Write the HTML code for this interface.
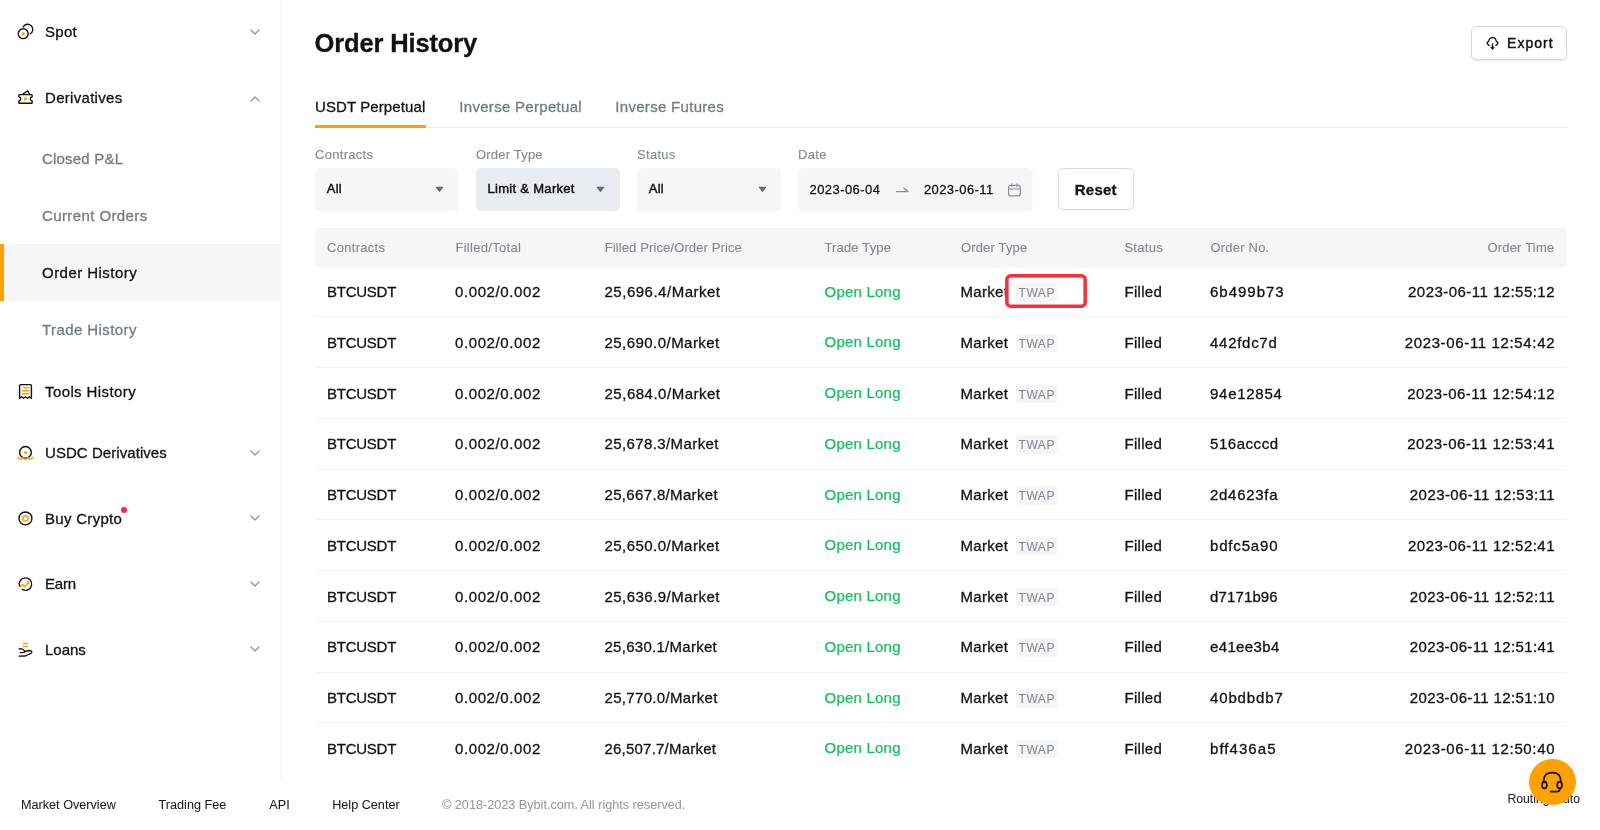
<!DOCTYPE html>
<html lang="en">
<head>
<meta charset="utf-8">
<title>Order History</title>
<style>
*{box-sizing:border-box;margin:0;padding:0}
html,body{width:1600px;height:830px;overflow:hidden;background:#fff}
body{font-family:"Liberation Sans",sans-serif;color:#121214;position:relative;will-change:transform;-webkit-text-stroke-width:.3px}
/* sidebar */
#side{position:absolute;left:0;top:0;width:281px;height:780px;border-right:1px solid #f4f5f7}
#icons{position:absolute;left:0;top:0}
.nav{position:absolute;left:45px;font-size:15px;line-height:20px;letter-spacing:.3px;white-space:nowrap;color:#121214}
.sub{position:absolute;left:42px;font-size:15px;line-height:20px;letter-spacing:.32px;white-space:nowrap;color:#747a86}
.sub.on{color:#121214}
#active{position:absolute;left:0;top:244px;width:280px;height:57px;background:#f5f6f8;border-left:4px solid #ffa100}
.chev{position:absolute;left:250.2px;width:10px;height:6px}
#dot{position:absolute;left:120.8px;top:506.9px;width:6.3px;height:6.3px;border-radius:50%;background:#f5274a}
/* main */
h1{position:absolute;left:314.6px;top:28px;font-size:25.5px;line-height:30px;font-weight:700;white-space:nowrap;color:#121214;letter-spacing:-.15px}
.tab{position:absolute;top:96.7px;font-size:15px;line-height:20px;letter-spacing:.3px;white-space:nowrap;color:#747a86}
.tab.on{color:#121214}
#tabline{position:absolute;left:315px;top:127px;width:1252px;height:1px;background:#e9edf1}
#tabon{position:absolute;left:315px;top:125px;width:111px;height:3px;background:#ffa100}
.flabel{position:absolute;top:147px;font-size:13px;line-height:16px;letter-spacing:.3px;color:#858a94;white-space:nowrap;-webkit-text-stroke-width:.15px}
.sel{position:absolute;top:168px;height:42.5px;border-radius:4.5px;background:#f5f6f8;font-size:13px;line-height:42px;padding-left:12px;letter-spacing:.3px;white-space:nowrap;-webkit-text-stroke-width:.45px}
.sel svg{position:absolute;right:14.2px;top:18.2px;width:9px;height:6.75px}
#reset{position:absolute;left:1058px;top:168px;width:75.5px;height:42px;border:1px solid #d4dae3;border-radius:4.5px;font-size:15px;font-weight:700;line-height:41.2px;text-align:center;letter-spacing:.2px}
#export{position:absolute;left:1471px;top:26px;width:96px;height:34px;border:1px solid #d4dae3;border-radius:5px;box-shadow:0 1px 1.5px rgba(180,190,205,.35);font-size:14px;line-height:33px;letter-spacing:1.05px;padding-left:35px;white-space:nowrap;-webkit-text-stroke-width:.45px}
#export svg{position:absolute;left:13px;top:9px;width:16px;height:16px}
#thead{position:absolute;left:314.5px;top:228px;width:1252.5px;height:38.5px;background:#f5f6f8}
.th{position:absolute;top:239.6px;font-size:13px;line-height:16px;letter-spacing:.3px;color:#858a94;white-space:nowrap;-webkit-text-stroke-width:.15px}
.row{position:absolute;left:315px;width:1252px;height:50.75px;border-bottom:1px solid #f1f2f4;font-size:15px;line-height:20px;letter-spacing:.3px}
.row.last{border-bottom:none}
.row span{position:absolute;top:15.5px;white-space:nowrap}
.c1{left:12px;letter-spacing:-.25px}.c2{left:140px;letter-spacing:.6px}.c3{left:289.5px;letter-spacing:.46px}.c4{left:509.5px;color:#10be5c;letter-spacing:.22px;-webkit-text-stroke-width:.2px;margin-top:-.3px}.c5{left:645.5px}.c6{left:809.5px}.c7{left:895px;letter-spacing:.85px}.c8{right:12.5px;letter-spacing:.42px}
.row span.twap{left:701px;top:16.5px;width:41px;height:18.5px;border-radius:3px;background:#f4f5f7;color:#858a94;font-size:12px;line-height:20px;text-align:center;letter-spacing:.55px;padding-left:.5px;-webkit-text-stroke-width:.1px}
#hl{position:absolute;left:1005px;top:274px;width:82px;height:34px}
#hl svg{position:absolute;left:0;top:0}
#hl span{position:absolute;left:11px;top:9px;width:41px;height:18.5px;border-radius:3px;background:#f4f5f7;color:#858a94;font-size:12px;line-height:20px;text-align:center;letter-spacing:.55px;padding-left:.5px;-webkit-text-stroke-width:.1px}
/* footer */
#foot{position:absolute;left:0;top:780px;width:1600px;height:50px;background:#fff}
.fl{position:absolute;top:798.2px;font-size:12.65px;line-height:15px;color:#1a1a1c;white-space:nowrap;-webkit-text-stroke-width:.05px}
#routing{position:absolute;left:1507.5px;top:791.5px;font-size:12.2px;line-height:14px;color:#222;white-space:nowrap;-webkit-text-stroke-width:.05px}
#chat{position:absolute;left:1529.2px;top:758.8px;width:46.4px;height:46.4px;border-radius:50%;background:#ffa100}
#chat svg{position:absolute;left:0;top:0;width:46.4px;height:46.4px}
</style>
</head>
<body>
<div id="side">
<div id="active"></div>
<svg id="icons" width="280" height="780" viewBox="0 0 280 780" fill="none" stroke="#121214" stroke-width="1.4" stroke-linecap="round" stroke-linejoin="round">
<!-- spot -->
<path d="M23.2 26.9 A5.1 5.1 0 1 1 30.2 33.75"/>
<circle cx="23.2" cy="33.7" r="4.95"/>
<polygon points="23.20,32.05 23.76,33.13 24.96,33.33 24.10,34.19 24.29,35.40 23.20,34.85 22.11,35.40 22.30,34.19 21.44,33.33 22.64,33.13" fill="#ff9d00" stroke="#ff9d00" stroke-width=".5" stroke-linejoin="round"/>
<!-- derivatives -->
<path d="M19.6 94.6 H31.4 Q32.2 94.6 32.2 95.4 V96.6 Q30.3 97.2 30.3 98.9 Q30.3 100.6 32.2 101.2 V102.5 Q32.2 103.3 31.4 103.3 H19.6 Q18.8 103.3 18.8 102.5 V101.2 Q20.7 100.6 20.7 98.9 Q20.7 97.2 18.8 96.6 V95.4 Q18.8 94.6 19.6 94.6 Z"/>
<path d="M22.6 94.4 L27.2 91.1 Q27.7 90.8 28 91.3 L29.7 94.4"/>
<polygon points="25.50,97.05 26.06,98.13 27.26,98.33 26.40,99.19 26.59,100.40 25.50,99.85 24.41,100.40 24.60,99.19 23.74,98.33 24.94,98.13" fill="#ff9d00" stroke="#ff9d00" stroke-width=".5" stroke-linejoin="round"/>
<!-- tools history -->
<path d="M19.6 398.3 V385.6 Q19.6 384.6 20.6 384.6 H30.4 Q31.4 384.6 31.4 385.6 V398.3 L29.45 396.7 L27.5 398.3 L25.5 396.7 L23.55 398.3 L21.6 396.7 Z"/>
<path d="M24.2 387.8 H28.7 M22.6 390.8 H28.7 M22.6 393.8 H28.7" stroke="#ff9d00" stroke-width="1.6"/>
<!-- usdc -->
<circle cx="25.45" cy="452.4" r="5.85"/>
<circle cx="25.45" cy="452.4" r="1.5" fill="#ff9d00" stroke="none"/>
<path d="M18 457.3 Q20.5 460.9 23 457.6 Q25.45 460.9 27.9 457.6 Q30.4 460.9 32.9 457.3" stroke="#ff9d00" stroke-width="1.5"/>
<!-- buy crypto -->
<circle cx="25.45" cy="518.4" r="6.45"/>
<circle cx="25.45" cy="518.4" r="2.7" stroke="#ff9d00"/>
<!-- earn -->
<path d="M19.75 586.6 A6.25 6.25 0 1 1 22.2 589.4" stroke-width="1.3"/>
<path d="M20.3 586.5 L22.5 584.4 L24.5 586.4 L28 582.9" stroke="#ff9d00" stroke-width="1.35"/>
<path d="M26.7 581.8 L29 581.6 L28.8 583.9 Z" fill="#ff9d00" stroke="#ff9d00" stroke-width=".6"/>
<!-- loans -->
<path d="M23 643.5 H28 M23 646.5 H28" stroke="#ff9d00" stroke-width="1.4" stroke-linecap="butt"/>
<path d="M19 648.8 L21.2 648.6 Q22.2 648.6 24.6 651 Q24.8 652.3 23.6 652.4 L20.3 652.6" stroke-width="1.3"/>
<path d="M24.8 651.5 L29.3 650.5 Q31.2 650.6 31.9 652.1 Q31.9 652.8 31 653.3 L25.2 656 L19 656.1" stroke-width="1.3"/>
</svg>
<div class="nav" style="top:22px">Spot</div><svg class="chev" style="top:28.6px" viewBox="0 0 10 6"><path d="M1 1 L5 5 L9 1" fill="none" stroke="#8d93a0" stroke-width="1.25" stroke-linecap="round" stroke-linejoin="round"/></svg>
<div class="nav" style="top:88px">Derivatives</div><svg class="chev" style="top:95.7px" viewBox="0 0 10 6"><path d="M1 5 L5 1 L9 5" fill="none" stroke="#8d93a0" stroke-width="1.25" stroke-linecap="round" stroke-linejoin="round"/></svg>
<div class="sub" style="top:149px;letter-spacing:.2px">Closed P&amp;L</div>
<div class="sub" style="top:206px;letter-spacing:.4px">Current Orders</div>
<div class="sub on" style="top:263px;letter-spacing:.46px">Order History</div>
<div class="sub" style="top:320px;letter-spacing:.42px">Trade History</div>
<div class="nav" style="top:381.5px;letter-spacing:.4px">Tools History</div>
<div class="nav" style="top:443px;letter-spacing:.06px">USDC Derivatives</div><svg class="chev" style="top:449.7px" viewBox="0 0 10 6"><path d="M1 1 L5 5 L9 1" fill="none" stroke="#8d93a0" stroke-width="1.25" stroke-linecap="round" stroke-linejoin="round"/></svg>
<div class="nav" style="top:508.5px">Buy Crypto</div><svg class="chev" style="top:515.2px" viewBox="0 0 10 6"><path d="M1 1 L5 5 L9 1" fill="none" stroke="#8d93a0" stroke-width="1.25" stroke-linecap="round" stroke-linejoin="round"/></svg>
<div id="dot"></div>
<div class="nav" style="top:574px;letter-spacing:-.2px">Earn</div><svg class="chev" style="top:580.7px" viewBox="0 0 10 6"><path d="M1 1 L5 5 L9 1" fill="none" stroke="#8d93a0" stroke-width="1.25" stroke-linecap="round" stroke-linejoin="round"/></svg>
<div class="nav" style="top:639.5px;letter-spacing:0">Loans</div><svg class="chev" style="top:646.2px" viewBox="0 0 10 6"><path d="M1 1 L5 5 L9 1" fill="none" stroke="#8d93a0" stroke-width="1.25" stroke-linecap="round" stroke-linejoin="round"/></svg>
</div>
<h1>Order History</h1>
<div id="export"><svg viewBox="0 0 16 16" fill="none" stroke="#121214" stroke-width="1.3" stroke-linecap="round" stroke-linejoin="round"><path d="M4.1 9.5 L2.3 7.7 Q1.7 7.1 2.3 6.5 L3.8 5 Q4.3 1.6 7.5 1.6 Q10.7 1.6 11.2 5 L12.7 6.5 Q13.3 7.1 12.7 7.7 L10.9 9.5"/><path d="M7.5 7.8 V12.6"/><path d="M5.7 11.4 L7.5 13.5 L9.3 11.4 Z" fill="#121214" stroke-width=".6"/></svg>Export</div>
<div class="tab on" style="left:315px;letter-spacing:.1px">USDT Perpetual</div>
<div class="tab" style="left:459.3px">Inverse Perpetual</div>
<div class="tab" style="left:615.3px">Inverse Futures</div>
<div id="tabline"></div><div id="tabon"></div>
<div class="flabel" style="left:315px">Contracts</div>
<div class="flabel" style="left:476px;letter-spacing:.2px">Order Type</div>
<div class="flabel" style="left:637px">Status</div>
<div class="flabel" style="left:798px">Date</div>
<div class="sel" style="left:314.7px;width:143.8px">All<svg viewBox="0 0 8 6"><path d="M.8 .6 H7.2 Q7.8 .6 7.4 1.1 L4.4 5.2 Q4 5.7 3.6 5.2 L.6 1.1 Q.2 .6 .8 .6Z" fill="#666b74"/></svg></div>
<div class="sel" style="left:475.5px;width:144px;background:#e8ecf0">Limit &amp; Market<svg viewBox="0 0 8 6"><path d="M.8 .6 H7.2 Q7.8 .6 7.4 1.1 L4.4 5.2 Q4 5.7 3.6 5.2 L.6 1.1 Q.2 .6 .8 .6Z" fill="#666b74"/></svg></div>
<div class="sel" style="left:636.7px;width:144px">All<svg viewBox="0 0 8 6"><path d="M.8 .6 H7.2 Q7.8 .6 7.4 1.1 L4.4 5.2 Q4 5.7 3.6 5.2 L.6 1.1 Q.2 .6 .8 .6Z" fill="#666b74"/></svg></div>
<div class="sel" id="date" style="left:798px;width:235px;letter-spacing:.43px;line-height:43.4px;-webkit-text-stroke-width:.28px;transform:translateX(-.5px)">2023-06-04<span style="position:absolute;left:126.4px;top:0">2023-06-11</span>
<svg style="left:98px;top:16px;width:14px;height:10px;right:auto" viewBox="0 0 14 10" fill="none" stroke="#8a8f99" stroke-width="1.3" stroke-linecap="round" stroke-linejoin="round"><path d="M.9 7.7 H12.6 L8.5 4"/></svg>
<svg style="left:210px;top:14.7px;width:14px;height:14px;right:auto" viewBox="0 0 14 14" fill="none" stroke="#8a8f99" stroke-width="1.2" stroke-linecap="round" stroke-linejoin="round"><rect x="1.1" y="2.4" width="11.6" height="10.5" rx="2"/><path d="M1.1 6 H12.7 M4.3 .8 V3.4 M9.5 .8 V3.4"/></svg>
</div>
<div id="reset">Reset</div>
<div id="thead"></div>
<div class="th" style="left:327px">Contracts</div>
<div class="th" style="left:455.4px">Filled/Total</div>
<div class="th" style="left:604.7px;letter-spacing:.12px">Filled Price/Order Price</div>
<div class="th" style="left:824.5px;letter-spacing:.15px">Trade Type</div>
<div class="th" style="left:961px;letter-spacing:.15px">Order Type</div>
<div class="th" style="left:1124.4px">Status</div>
<div class="th" style="left:1210.5px;letter-spacing:.2px">Order No.</div>
<div class="th" style="right:45.6px;letter-spacing:.2px">Order Time</div>
<div id="rows">
<div class="row" style="top:266.50px"><span class="c1">BTCUSDT</span><span class="c2">0.002/0.002</span><span class="c3" style="letter-spacing:0.510px">25,696.4/Market</span><span class="c4">Open Long</span><span class="c5">Market</span><span class="twap">TWAP</span><span class="c6">Filled</span><span class="c7" style="letter-spacing:0.993px">6b499b73</span><span class="c8" style="letter-spacing:0.459px;margin-right:-0.459px">2023-06-11 12:55:12</span></div>
<div class="row" style="top:317.25px"><span class="c1">BTCUSDT</span><span class="c2">0.002/0.002</span><span class="c3" style="letter-spacing:0.453px">25,690.0/Market</span><span class="c4">Open Long</span><span class="c5">Market</span><span class="twap">TWAP</span><span class="c6">Filled</span><span class="c7" style="letter-spacing:0.721px">442fdc7d</span><span class="c8" style="letter-spacing:0.648px;margin-right:-0.648px">2023-06-11 12:54:42</span></div>
<div class="row" style="top:368.00px"><span class="c1">BTCUSDT</span><span class="c2">0.002/0.002</span><span class="c3" style="letter-spacing:0.510px">25,684.0/Market</span><span class="c4">Open Long</span><span class="c5">Market</span><span class="twap">TWAP</span><span class="c6">Filled</span><span class="c7" style="letter-spacing:0.721px">94e12854</span><span class="c8" style="letter-spacing:0.503px;margin-right:-0.503px">2023-06-11 12:54:12</span></div>
<div class="row" style="top:418.75px"><span class="c1">BTCUSDT</span><span class="c2">0.002/0.002</span><span class="c3" style="letter-spacing:0.396px">25,678.3/Market</span><span class="c4">Open Long</span><span class="c5">Market</span><span class="twap">TWAP</span><span class="c6">Filled</span><span class="c7" style="letter-spacing:0.550px">516acccd</span><span class="c8" style="letter-spacing:0.503px;margin-right:-0.503px">2023-06-11 12:53:41</span></div>
<div class="row" style="top:469.50px"><span class="c1">BTCUSDT</span><span class="c2">0.002/0.002</span><span class="c3" style="letter-spacing:0.339px">25,667.8/Market</span><span class="c4">Open Long</span><span class="c5">Market</span><span class="twap">TWAP</span><span class="c6">Filled</span><span class="c7" style="letter-spacing:0.707px">2d4623fa</span><span class="c8" style="letter-spacing:0.420px;margin-right:-0.420px">2023-06-11 12:53:11</span></div>
<div class="row" style="top:520.25px"><span class="c1">BTCUSDT</span><span class="c2">0.002/0.002</span><span class="c3" style="letter-spacing:0.453px">25,650.0/Market</span><span class="c4">Open Long</span><span class="c5">Market</span><span class="twap">TWAP</span><span class="c6">Filled</span><span class="c7" style="letter-spacing:0.836px">bdfc5a90</span><span class="c8" style="letter-spacing:0.459px;margin-right:-0.459px">2023-06-11 12:52:41</span></div>
<div class="row" style="top:571.00px"><span class="c1">BTCUSDT</span><span class="c2">0.002/0.002</span><span class="c3" style="letter-spacing:0.467px">25,636.9/Market</span><span class="c4">Open Long</span><span class="c5">Market</span><span class="twap">TWAP</span><span class="c6">Filled</span><span class="c7" style="letter-spacing:0.136px">d7171b96</span><span class="c8" style="letter-spacing:0.426px;margin-right:-0.426px">2023-06-11 12:52:11</span></div>
<div class="row" style="top:621.75px"><span class="c1">BTCUSDT</span><span class="c2">0.002/0.002</span><span class="c3" style="letter-spacing:0.274px">25,630.1/Market</span><span class="c4">Open Long</span><span class="c5">Market</span><span class="twap">TWAP</span><span class="c6">Filled</span><span class="c7" style="letter-spacing:0.364px">e41ee3b4</span><span class="c8" style="letter-spacing:0.364px;margin-right:-0.364px">2023-06-11 12:51:41</span></div>
<div class="row" style="top:672.50px"><span class="c1">BTCUSDT</span><span class="c2">0.002/0.002</span><span class="c3" style="letter-spacing:0.324px">25,770.0/Market</span><span class="c4">Open Long</span><span class="c5">Market</span><span class="twap">TWAP</span><span class="c6">Filled</span><span class="c7" style="letter-spacing:0.864px">40bdbdb7</span><span class="c8" style="letter-spacing:0.364px;margin-right:-0.364px">2023-06-11 12:51:10</span></div>
<div class="row last" style="top:723.25px"><span class="c1">BTCUSDT</span><span class="c2">0.002/0.002</span><span class="c3" style="letter-spacing:0.217px">26,507.7/Market</span><span class="c4">Open Long</span><span class="c5">Market</span><span class="twap">TWAP</span><span class="c6">Filled</span><span class="c7" style="letter-spacing:1.050px">bff436a5</span><span class="c8" style="letter-spacing:0.642px;margin-right:-0.642px">2023-06-11 12:50:40</span></div>
</div>
<div id="hl"><svg width="82" height="34" viewBox="0 0 82 34"><rect x="1.85" y="1.85" width="78.3" height="30.3" rx="3.6" fill="#fff" stroke="#f92f3c" stroke-width="3.5"/></svg><span>TWAP</span></div>
<div id="foot"></div>
<div class="fl" style="left:21px">Market Overview</div>
<div class="fl" style="left:158.6px">Trading Fee</div>
<div class="fl" style="left:269.3px">API</div>
<div class="fl" style="left:332.2px">Help Center</div>
<div class="fl" style="left:442px;color:#97999d">© 2018-2023 Bybit.com. All rights reserved.</div>
<div id="routing">Routing: auto</div>
<div id="chat"><svg viewBox="0 0 46.4 46.4" fill="none" stroke="#121214" stroke-width="1.7" stroke-linecap="round" stroke-linejoin="round"><path d="M14.7 23.5 V22 Q14.7 13.7 23.2 13.7 Q31.7 13.7 31.7 22 V23.5"/><ellipse cx="15.4" cy="26" rx="2.4" ry="3.4"/><ellipse cx="30.6" cy="26" rx="2.4" ry="3.4"/><path d="M31.2 29.4 Q30.8 32.6 28 32.6 H21.6"/></svg></div>
</body>
</html>
